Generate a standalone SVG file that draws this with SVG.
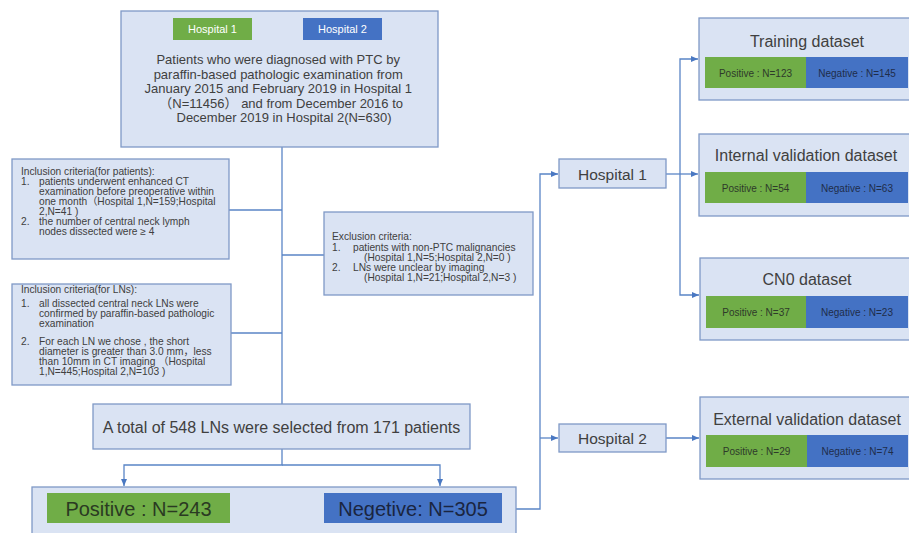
<svg xmlns="http://www.w3.org/2000/svg" width="909" height="533" viewBox="0 0 909 533">
<style>
.box{fill:#dae3f3;stroke:#7f99c6;stroke-width:1.3}
.g{fill:#70ad47}
.b{fill:#4472c4}
.t{font-family:"Liberation Sans","Noto Sans CJK SC",Arial,sans-serif;fill:#404040}
.sm{font-size:10.2px}
.bar{font-size:10px;text-anchor:middle;fill:#2e3a2a}
.barb{font-size:10px;text-anchor:middle;fill:#1f2d4a}
.ttl{font-size:16px;text-anchor:middle}
.c{fill:none;stroke:#5a85c6;stroke-width:1.3}
</style>
<defs>
<marker id="ah" markerUnits="userSpaceOnUse" markerWidth="8" markerHeight="8" refX="7" refY="4" orient="auto">
<path d="M0,1 L7,4 L0,7 Z" fill="#4a78c2"/>
</marker>
</defs>
<rect width="909" height="533" fill="#ffffff"/>

<g id="connectors">
<path class="c" d="M282,147 V404"/>
<path class="c" d="M229,210 H282"/>
<path class="c" d="M231,333 H282"/>
<path class="c" d="M282,255 H324"/>
<path class="c" d="M282,449 V465 H124 V486" marker-end="url(#ah)"/>
<path class="c" d="M282,465 H440 V486" marker-end="url(#ah)"/>
<path class="c" d="M516,509 H540 V174 H558" marker-end="url(#ah)"/>
<path class="c" d="M540,438 H558" marker-end="url(#ah)"/>
<path class="c" d="M666,174 H698" marker-end="url(#ah)"/>
<path class="c" d="M680,174 V59 H698" marker-end="url(#ah)"/>
<path class="c" d="M680,174 V295 H699" marker-end="url(#ah)"/>
<path class="c" d="M666,438 H699" marker-end="url(#ah)"/>
</g>

<g id="patients">
<rect class="box" x="121" y="11" width="317" height="136"/>
<rect class="g" x="173" y="18" width="79" height="22"/>
<text class="t" x="212.5" y="33" font-size="11" text-anchor="middle" style="fill:#ffffff">Hospital 1</text>
<rect class="b" x="303" y="18" width="79" height="22"/>
<text class="t" x="342.5" y="33" font-size="11" text-anchor="middle" style="fill:#ffffff">Hospital 2</text>
<text class="t" font-size="13" text-anchor="middle">
<tspan x="280" y="64">Patients who were diagnosed with PTC by</tspan>
<tspan x="280" y="78.5">paraffin-based pathologic examination from</tspan>
<tspan x="280" y="93">January 2015 and February 2019 in Hospital 1</tspan>
<tspan x="283" y="107.5">（N=11456） and from December 2016 to</tspan>
<tspan x="284" y="122">December 2019 in Hospital 2(N=630)</tspan>
</text>
</g>

<g id="inclusion-patients">
<rect class="box" x="12" y="159" width="217" height="100"/>
<text class="t sm">
<tspan x="21" y="175">Inclusion criteria(for patients):</tspan>
<tspan x="21" y="185">1.</tspan><tspan x="39" y="185">patients underwent enhanced CT</tspan>
<tspan x="39" y="195">examination before preoperative within</tspan>
<tspan x="39" y="205">one month（Hospital 1,N=159;Hospital</tspan>
<tspan x="39" y="215">2,N=41 )</tspan>
<tspan x="21" y="225">2.</tspan><tspan x="39" y="225">the number of central neck lymph</tspan>
<tspan x="39" y="235">nodes dissected were ≥ 4</tspan>
</text>
</g>

<g id="inclusion-lns">
<rect class="box" x="12" y="284" width="219" height="101"/>
<text class="t sm">
<tspan x="21" y="293">Inclusion criteria(for LNs):</tspan>
<tspan x="21" y="307">1.</tspan><tspan x="39" y="307">all dissected central neck LNs were</tspan>
<tspan x="39" y="317">confirmed by paraffin-based pathologic</tspan>
<tspan x="39" y="327">examination</tspan>
<tspan x="21" y="345">2.</tspan><tspan x="39" y="345">For each LN we  chose , the short</tspan>
<tspan x="39" y="355">diameter is greater than 3.0 mm，less</tspan>
<tspan x="39" y="365">than 10mm in CT imaging （Hospital</tspan>
<tspan x="39" y="375">1,N=445;Hospital 2,N=103 )</tspan>
</text>
</g>

<g id="exclusion">
<rect class="box" x="324" y="212" width="209" height="83"/>
<text class="t sm">
<tspan x="332" y="240">Exclusion criteria:</tspan>
<tspan x="332" y="251">1.</tspan><tspan x="353" y="251">patients with non-PTC malignancies</tspan>
<tspan x="364" y="261">(Hospital 1,N=5;Hospital 2,N=0 )</tspan>
<tspan x="332" y="271">2.</tspan><tspan x="353" y="271">LNs were unclear by imaging</tspan>
<tspan x="364" y="281">(Hospital 1,N=21;Hospital 2,N=3 )</tspan>
</text>
</g>

<g id="total">
<rect class="box" x="93" y="404" width="377" height="45"/>
<text class="t" x="281.5" y="433" font-size="16" text-anchor="middle">A total of 548 LNs were selected from 171 patients</text>
</g>

<g id="split">
<rect class="box" x="32" y="487" width="484" height="60"/>
<rect class="g" x="47" y="493" width="183" height="30"/>
<text class="t" x="138.5" y="515.5" font-size="20" text-anchor="middle" style="fill:#2a3a22">Positive : N=243</text>
<rect class="b" x="324" y="493" width="178" height="30"/>
<text class="t" x="413" y="515.5" font-size="20" text-anchor="middle" style="fill:#1a2540">Negetive: N=305</text>
</g>

<g id="hospital1">
<rect class="box" x="559" y="159" width="107" height="29"/>
<text class="t" x="612.5" y="179.5" font-size="15.5" text-anchor="middle">Hospital 1</text>
</g>

<g id="hospital2">
<rect class="box" x="559" y="424" width="107" height="28"/>
<text class="t" x="612.5" y="443.5" font-size="15.5" text-anchor="middle">Hospital 2</text>
</g>

<g id="training">
<rect class="box" x="699" y="18" width="212" height="82"/>
<text class="t ttl" x="807" y="47">Training dataset</text>
<rect class="g" x="705" y="57" width="101" height="31"/>
<rect class="b" x="806" y="57" width="102" height="31"/>
<text class="t bar" x="755.5" y="76.5">Positive : N=123</text>
<text class="t barb" x="857" y="76.5">Negative : N=145</text>
</g>

<g id="internal">
<rect class="box" x="699" y="134" width="212" height="82"/>
<text class="t ttl" x="806" y="161">Internal validation dataset</text>
<rect class="g" x="705" y="172" width="101" height="31"/>
<rect class="b" x="806" y="172" width="102" height="31"/>
<text class="t bar" x="755.5" y="191.5">Positive : N=54</text>
<text class="t barb" x="857" y="191.5">Negative : N=63</text>
</g>

<g id="cn0">
<rect class="box" x="700" y="258" width="211" height="82"/>
<text class="t ttl" x="807" y="285">CN0 dataset</text>
<rect class="g" x="706" y="296" width="100" height="32"/>
<rect class="b" x="806" y="296" width="102" height="32"/>
<text class="t bar" x="756" y="315.5">Positive : N=37</text>
<text class="t barb" x="857" y="315.5">Negative : N=23</text>
</g>

<g id="external">
<rect class="box" x="700" y="397" width="211" height="82"/>
<text class="t ttl" x="807" y="425">External validation dataset</text>
<rect class="g" x="706" y="435" width="101" height="32"/>
<rect class="b" x="807" y="435" width="101" height="32"/>
<text class="t bar" x="756.5" y="454.5">Positive : N=29</text>
<text class="t barb" x="857.5" y="454.5">Negative : N=74</text>
</g>
</svg>
